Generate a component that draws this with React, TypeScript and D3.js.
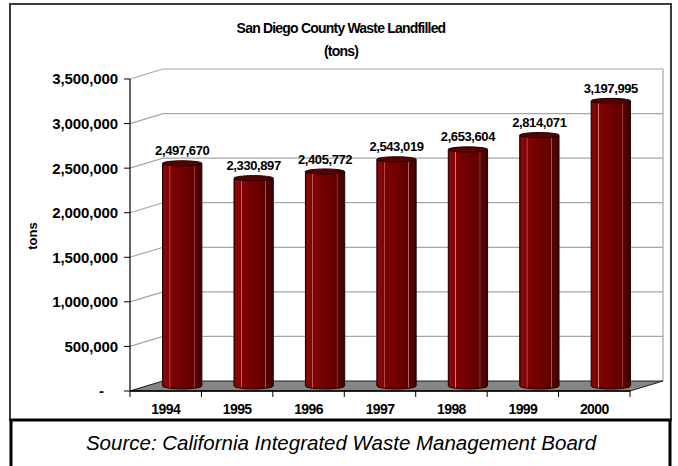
import React from "react";
import * as d3 from "d3";

// Annual tonnage landfilled in San Diego County
const years = ["1994", "1995", "1996", "1997", "1998", "1999", "2000"];
const tons = [2497670, 2330897, 2405772, 2543019, 2653604, 2814071, 3197995];
const yTicks = [0, 500000, 1000000, 1500000, 2000000, 2500000, 3000000, 3500000];

const W = 678;
const H = 466;

// Front plane of the 3-D plot box
const X0 = 130;
const X1 = 630;
const Y0 = 391;
const Y1 = 79;
// Depth of the box (back wall offset)
const DX = 33;
const DY = -10;

const font = "'Liberation Sans', Arial, Helvetica, sans-serif";
const fmt = d3.format(",");

export default function App() {
  const x = d3.scaleBand<string>().domain(years).range([X0, X1]).paddingInner(0).paddingOuter(0);
  const y = d3.scaleLinear().domain([0, 3500000]).range([Y0, Y1]);

  const bw = x.bandwidth();
  const rx = bw * 0.275;
  const ryTop = 2.6;
  const ryBot = 3;

  const floor = `M${X0},${Y0} L${X1},${Y0} L${X1 + DX},${Y0 + DY} L${X0 + DX},${Y0 + DY} Z`;

  return (
    <svg
      width={W}
      height={H}
      viewBox={`0 0 ${W} ${H}`}
      style={{ position: "absolute", left: 0, top: 0, background: "#fff" }}
      fontFamily={font}
    >
      <defs>
        <linearGradient id="cyl" x1="0" x2="1" y1="0" y2="0">
          <stop offset="0%" stopColor="#560000" />
          <stop offset="5%" stopColor="#8a0909" />
          <stop offset="17%" stopColor="#800101" />
          <stop offset="18.5%" stopColor="#d88a8a" />
          <stop offset="20.5%" stopColor="#800101" />
          <stop offset="50%" stopColor="#700000" />
          <stop offset="79%" stopColor="#600000" />
          <stop offset="80.5%" stopColor="#b06464" />
          <stop offset="82.5%" stopColor="#580000" />
          <stop offset="100%" stopColor="#400000" />
        </linearGradient>
      </defs>

      <rect x={0} y={0} width={W} height={H} fill="#fff" />

      {/* chart frame */}
      <rect x={10} y={4} width={661} height={416} fill="#fff" stroke="#3a3a3a" strokeWidth={2} />

      {/* title */}
      <text x={341} y={33} textAnchor="middle" fontSize={14} fontWeight="bold" letterSpacing={-0.8} fill="#000">
        San Diego County Waste Landfilled
      </text>
      <text x={341} y={56} textAnchor="middle" fontSize={14} fontWeight="bold" letterSpacing={-0.8} fill="#000">
        (tons)
      </text>

      {/* back wall gridlines */}
      {yTicks.map((t) => (
        <g key={`g${t}`}>
          {t > 0 && (
            <line
              x1={X0 + DX}
              x2={X1 + DX}
              y1={y(t) + DY}
              y2={y(t) + DY}
              stroke="#a6a6a6"
              strokeWidth={1.2}
            />
          )}
          <line x1={X0} x2={X0 + DX} y1={y(t)} y2={y(t) + DY} stroke="#a6a6a6" strokeWidth={1.2} />
        </g>
      ))}
      <line x1={X1 + DX} x2={X1 + DX} y1={y(3500000) + DY} y2={Y0 + DY} stroke="#a6a6a6" strokeWidth={1.2} />

      {/* floor */}
      <path d={floor} fill="#858585" stroke="#222" strokeWidth={1} />

      {/* y axis */}
      <line x1={X0} x2={X0} y1={Y1} y2={Y0} stroke="#000" strokeWidth={1.2} />
      {yTicks.map((t) => (
        <g key={`t${t}`}>
          <line x1={X0 - 6} x2={X0} y1={y(t)} y2={y(t)} stroke="#000" strokeWidth={1} />
          <text
            x={t === 0 ? 104 : 118}
            y={y(t)}
            dy="0.36em"
            textAnchor="end"
            fontSize={15}
            fontWeight="bold"
            letterSpacing={-0.1}
            fill="#000"
          >
            {t === 0 ? "-" : fmt(t)}
          </text>
        </g>
      ))}
      <text
        transform={`translate(37,236) rotate(-90)`}
        textAnchor="middle"
        fontSize={13}
        fontWeight="bold"
        fill="#000"
      >
        tons
      </text>

      {/* x axis */}
      <line x1={X0} x2={X1} y1={Y0} y2={Y0} stroke="#000" strokeWidth={1.6} />
      {[...years.map((yr) => x(yr) as number), X1].map((px, i) => (
        <line key={`xt${i}`} x1={px} x2={px} y1={Y0} y2={Y0 + 6} stroke="#000" strokeWidth={1} />
      ))}
      {years.map((yr) => (
        <text
          key={`xl${yr}`}
          x={(x(yr) as number) + bw / 2}
          y={414}
          textAnchor="middle"
          fontSize={14}
          fontWeight="bold"
          letterSpacing={-0.6}
          fill="#000"
        >
          {yr}
        </text>
      ))}

      {/* cylinders */}
      {years.map((yr, i) => {
        const cx = (x(yr) as number) + bw / 2 + DX / 2;
        const base = y(0) + DY / 2;
        const top = y(tons[i]) + DY / 2;
        const l = cx - rx;
        const r = cx + rx;
        const body = `M${l},${top} L${l},${base} A${rx},${ryBot} 0 0 0 ${r},${base} L${r},${top} Z`;
        return (
          <g key={`b${yr}`}>
            <path d={body} fill="url(#cyl)" stroke="#1a0000" strokeWidth={1} />
            <ellipse cx={cx} cy={top} rx={rx} ry={ryTop} fill="#5a0000" stroke="#1a0000" strokeWidth={1} />
            <text
              x={cx}
              y={top - 8}
              textAnchor="middle"
              fontSize={13}
              fontWeight="bold"
              letterSpacing={-0.4}
              fill="#000"
            >
              {fmt(tons[i])}
            </text>
          </g>
        );
      })}

      {/* source box */}
      <rect x={11} y={420} width={659} height={52} fill="#fff" stroke="#000" strokeWidth={3} />
      <text x={341} y={450} textAnchor="middle" fontSize={20.5} fontStyle="italic" fill="#000">
        Source: California Integrated Waste Management Board
      </text>
    </svg>
  );
}
